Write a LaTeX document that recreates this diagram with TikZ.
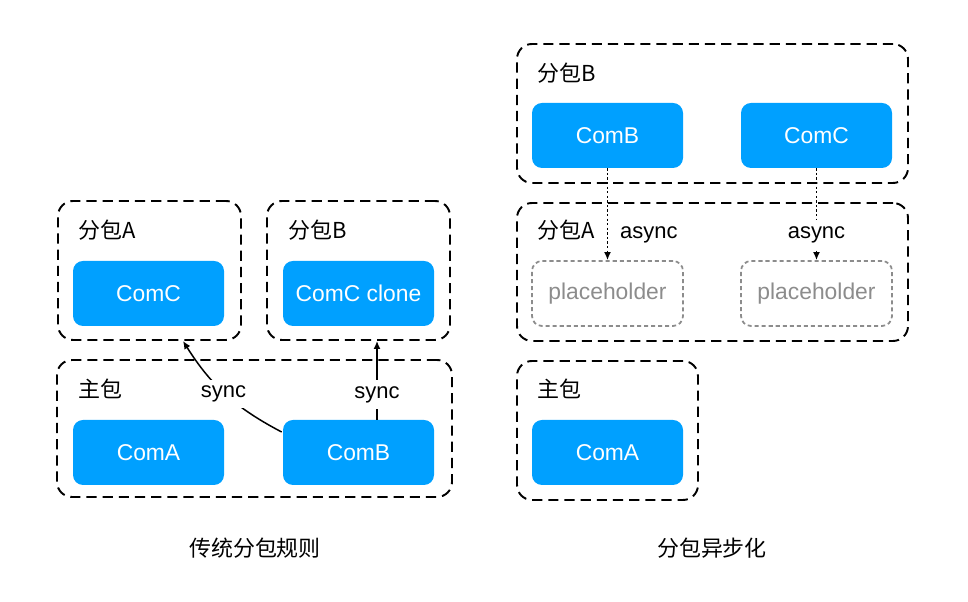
\documentclass[tikz,border=0pt]{standalone}
\usepackage{fontspec}
\setmainfont{Liberation Sans}
\newfontfamily\cjk{Noto Sans CJK SC}
\usetikzlibrary{arrows.meta}
\definecolor{comblue}{RGB}{0,160,255}
\definecolor{phgray}{RGB}{140,140,140}

\begin{document}
\begin{tikzpicture}[
    txt/.style={font=\fontsize{12.5}{15}\selectfont},
    pkg/.style={draw, line width=1.1pt, dash pattern=on 5.8pt off 3.4pt,
      rounded corners=0.3cm, inner sep=0pt},
    com/.style={fill=comblue, text=white, rounded corners=0.2cm,
      minimum width=3.02cm, minimum height=1.3cm, txt, font=\fontsize{13}{15}\selectfont},
    holder/.style={draw=phgray, text=phgray, line width=1pt, dash pattern=on 2.3pt off 1.7pt,
      rounded corners=0.2cm, minimum width=3.02cm, minimum height=1.3cm,
      font=\fontsize{13}{15}\selectfont},
    lbl/.style={anchor=west, inner sep=0pt, font=\cjk\fontsize{12.5}{15}\selectfont},
    tip/.style={-{Latex[length=1.6mm,width=1.4mm]}, line width=0.85pt}
  ]
  \useasboundingbox (0,0) rectangle (19.36,12.04);

  % left: classic subpackages
  \node[pkg, minimum width=3.66cm, minimum height=2.78cm] (boxA) at (2.99,6.63) {};
  \node[pkg, minimum width=3.66cm, minimum height=2.78cm] (boxB) at (7.17,6.63) {};
  \node[pkg, minimum width=7.9cm, minimum height=2.74cm] (mainL) at (5.09,3.47) {};
  \node[lbl] (lblA) at (1.56,7.44) {分包A};
  \node[lbl] (lblB) at (5.76,7.44) {分包B};
  \node[lbl] (lblMain) at (1.56,4.26) {主包};
  \node[com] (comC) at (2.97,6.17) {ComC};
  \node[com] (comCc) at (7.17,6.17) {ComC clone};
  \node[com] (comA) at (2.97,2.99) {ComA};
  \node[com] (comB) at (7.17,2.99) {ComB};
  \draw[tip] ([xshift=-0.02cm,yshift=0.41cm]comB.west) to[bend left=15]
    node[fill=white, txt, pos=0.5, xshift=-0.04cm] {sync} ([xshift=0.67cm]boxA.south);
  \draw[tip] ([xshift=0.37cm]comCc.south |- comB.north) --
    node[fill=white, txt, pos=0.32] {sync} ([xshift=0.37cm]boxB.south);
  \node[txt, font=\cjk\fontsize{12.5}{15}\selectfont] (titleL) at (5.1,1.08) {传统分包规则};

  % right: async subpackages
  \node[pkg, minimum width=7.82cm, minimum height=2.78cm] (boxBr) at (14.25,9.77) {};
  \node[pkg, minimum width=7.82cm, minimum height=2.76cm] (boxAr) at (14.25,6.60) {};
  \node[pkg, minimum width=3.62cm, minimum height=2.78cm] (mainR) at (12.15,3.43) {};
  \node[lbl] (lblBr) at (10.74,10.58) {分包B};
  \node[lbl] (lblAr) at (10.74,7.44) {分包A};
  \node[lbl] (lblMr) at (10.74,4.26) {主包};
  \node[com] (comBr) at (12.15,9.33) {ComB};
  \node[com] (comCr) at (16.33,9.33) {ComC};
  \node[holder] (ph1) at (12.15,6.17) {placeholder};
  \node[holder] (ph2) at (16.33,6.17) {placeholder};
  \node[com] (comAr) at (12.15,2.99) {ComA};
  \draw[tip, line width=1pt, dash pattern=on 1.3pt off 1.3pt] (comBr) --
    node[right, txt, pos=0.72, xshift=0.12cm] {async} (ph1);
  \draw[tip, line width=1pt, dash pattern=on 1.3pt off 1.3pt] (comCr) --
    node[fill=white, txt, pos=0.72] {async} (ph2);
  \node[txt, font=\cjk\fontsize{12.5}{15}\selectfont] (titleR) at (14.24,1.08) {分包异步化};
\end{tikzpicture}
\end{document}
